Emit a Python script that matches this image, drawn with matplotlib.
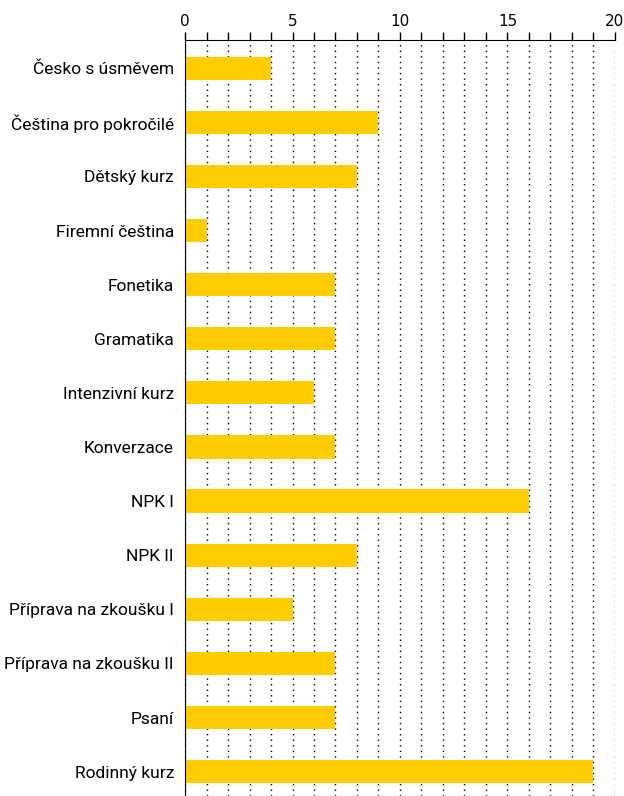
import numpy as np
import matplotlib.pyplot as plt
from matplotlib.ticker import MultipleLocator

courses = ['Česko s úsměvem', 'Čeština pro pokročilé', 'Dětský kurz',
           'Firemní čeština', 'Fonetika', 'Gramatika', 'Intenzivní kurz',
           'Konverzace', 'NPK I', 'NPK II', 'Příprava na zkoušku I',
           'Příprava na zkoušku II', 'Psaní', 'Rodinný kurz']
counts = [4, 9, 8, 1, 7, 7, 6, 7, 16, 8, 5, 7, 7, 19]

fig = plt.figure(figsize=(6.24, 7.96), dpi=100)
ax = fig.add_axes([0.2965, 0.0, 0.689, 0.9497])

y = np.arange(len(courses))
ax.barh(y, counts, height=0.43, color='#ffcc00', zorder=2)

ax.set_xlim(0, 20)
ax.set_ylim(13.45, -0.52)
ax.set_yticks(y)
ax.set_yticklabels(courses, fontsize=12.5, family='Roboto')
ax.tick_params(axis='y', length=0, pad=8)

ax.xaxis.tick_top()
ax.xaxis.set_major_locator(MultipleLocator(5))
ax.xaxis.set_minor_locator(MultipleLocator(1))
ax.tick_params(axis='x', which='both', direction='out', length=6, width=1,
               labelsize=11, pad=2)
ax.grid(axis='x', which='both', color='black', linestyle=(0, (1, 3)),
        linewidth=1, zorder=1)

for side in ['right', 'bottom']:
    ax.spines[side].set_visible(False)

fig.savefig('out.png', dpi=100)
